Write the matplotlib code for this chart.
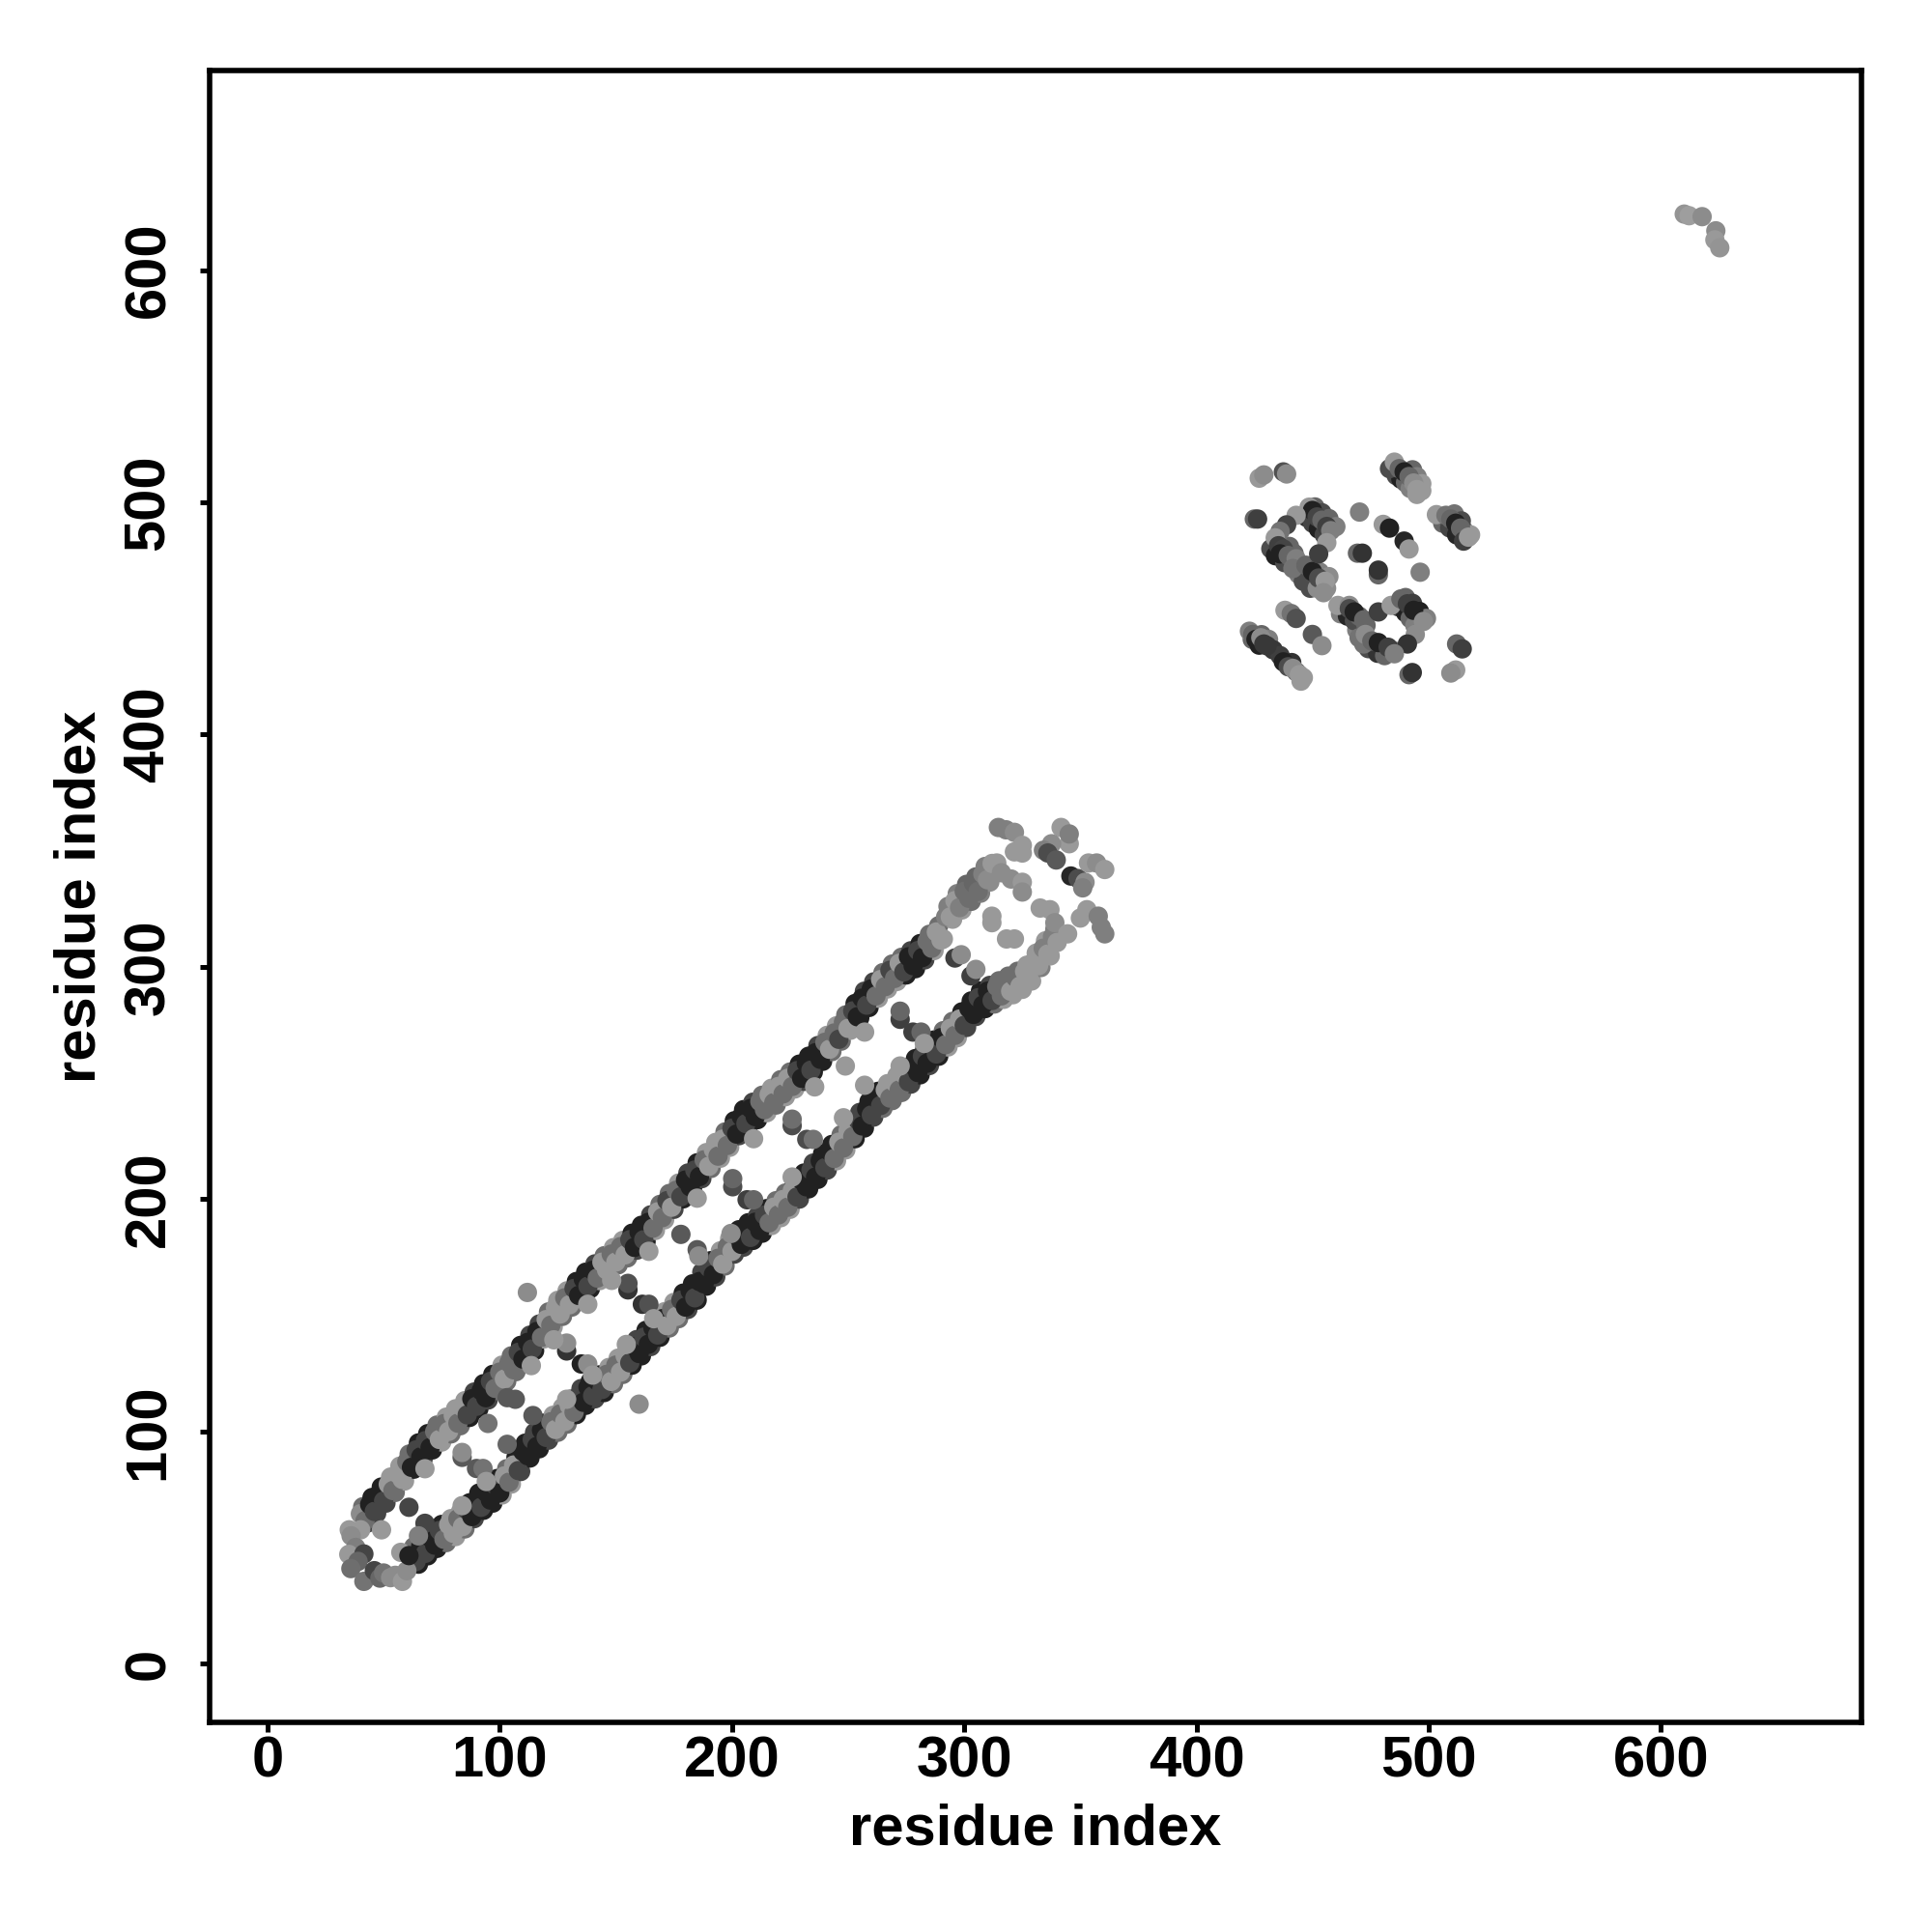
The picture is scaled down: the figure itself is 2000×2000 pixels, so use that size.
import matplotlib
matplotlib.use('Agg')
import matplotlib.pyplot as plt

# contacts along the two long strands
upper_x = [40, 42, 44, 46, 48, 50, 52, 54, 56, 58,
           60, 62, 64, 66, 68, 70, 72, 74, 76, 78,
           80, 82, 84, 86, 88, 90, 92, 94, 96, 98,
           100, 102, 104, 106, 108, 110, 112, 114, 116, 118,
           120, 122, 124, 126, 128, 130, 132, 134, 136, 138,
           140, 142, 144, 146, 148, 150, 152, 154, 156, 158,
           160, 162, 164, 166, 168, 170, 172, 174, 176, 178,
           180, 182, 184, 186, 188, 190, 192, 194, 196, 198,
           200, 202, 204, 206, 208, 210, 212, 214, 216, 218,
           220, 222, 224, 226, 228, 230, 232, 234, 236, 238,
           240, 242, 244, 246, 248, 250, 252, 254, 256, 258,
           260, 262, 264, 266, 268, 270, 272, 274, 276, 278,
           280, 282, 284, 286, 288, 290, 292, 294, 296, 298,
           300, 302, 304, 306, 308, 310, 312]
upper_y = [64.5, 61.5, 68.5, 65.5, 72.9, 70, 77.2, 74.5, 81.8, 79.3,
           86.9, 84.5, 92, 89, 96, 93, 99.9, 96.5, 103.3, 100,
           106.8, 103.5, 110.3, 107.1, 114, 110.8, 117.5, 114.5, 121.5, 118.5,
           125.5, 122.5, 129.5, 126.5, 134, 131.1, 138.3, 135.5, 143, 140.5,
           148.1, 145.7, 153.2, 150.5, 157.5, 154.5, 161.5, 158.5, 165.5, 162.5,
           169.3, 166, 172.8, 169.5, 176.3, 172.9, 179.5, 176, 182.5, 179.2,
           185.8, 182.5, 190, 187.5, 194.5, 192, 199.3, 196.5, 203.8, 201,
           208.2, 205.3, 212.5, 209.7, 216.9, 214.1, 221.3, 218.5, 225.8, 223.1,
           230.5, 228, 235.5, 232.5, 239, 235.5, 242, 238.5, 245, 241.5,
           248.5, 245.3, 252, 248.5, 255.3, 252, 258.5, 255.5, 263, 260.2,
           267.5, 264.5, 271.5, 268.8, 276.2, 273.5, 281, 278.5, 286.5, 283.5,
           290.5, 287.5, 294.5, 291.5, 298.5, 295, 301.5, 297.8, 304.3, 300.5,
           307, 304, 311, 308, 315, 311.5, 321.5, 321.5, 328.5, 325.5,
           332.5, 329.5, 336, 332.5, 340, 337.5, 344.5]
upper_score = [.45, .57, .87, .73, .87, .73, .4, .57, .4, .4,
               .57, .87, .73, .87, .73, .87, .57, .4, .57, .4,
               .4, .57, .4, .73, .87, .73, .87, .87, .73, .57,
               .57, .4, .57, .57, .73, .87, .87, .73, .87, .57,
               .4, .57, .4, .4, .57, .4, .73, .87, .87, .73,
               .87, .57, .4, .4, .57, .4, .57, .4, .73, .87,
               .87, .73, .87, .57, .4, .57, .73, .4, .57, .73,
               .87, .87, .73, .87, .57, .4, .4, .57, .4, .57,
               .73, .87, .87, .73, .87, .87, .57, .57, .4, .57,
               .4, .57, .4, .57, .73, .87, .87, .73, .87, .87,
               .57, .4, .57, .73, .57, .4, .73, .87, .87, .73,
               .87, .57, .4, .57, .73, .57, .4, .73, .87, .87,
               .73, .87, .57, .57, .4, .4, .5, .4, .4, .5,
               .57, .57, .6, .57, .5, .45, .4]

# contacts on the outer edges of the upper strand
upper_edge_x = [41, 43, 45, 47, 49, 51, 53, 55, 57, 59,
                61, 63, 65, 67, 69, 71, 73, 75, 77, 79,
                81, 83, 85, 87, 89, 91, 93, 95, 97, 99,
                101, 103, 105, 107, 109, 111, 113, 115, 117, 119,
                121, 123, 125, 127, 129, 131, 133, 135, 137, 139,
                141, 143, 145, 147, 149, 151, 153, 155, 157, 159,
                161, 163, 165, 167, 169, 171, 173, 175, 177, 179,
                181, 183, 185, 187, 189, 191, 193, 195, 197, 199,
                201, 203, 205, 207, 209, 211, 213, 215, 217, 219,
                221, 223, 225, 227, 229, 231, 233, 235, 237, 239,
                241, 243, 245, 247, 249, 251, 253, 255, 257, 259,
                261, 263, 265, 267, 269, 271, 273, 275, 277, 279,
                281, 283, 285, 287, 289, 291, 293, 295, 297, 299,
                301, 303, 305, 307, 309, 311]
upper_edge_y = [67.5, 60.5, 71.5, 64.7, 76, 69.1, 80.3, 73.7, 85, 78.6,
                90.2, 83.7, 95, 88, 99, 92, 102.7, 95.4, 106.1, 98.9,
                109.7, 102.4, 113.2, 106, 116.9, 109.7, 120.5, 113.5, 124.5, 117.5,
                128.5, 121.5, 132.5, 125.7, 137, 130.2, 141.4, 134.7, 146.2, 139.8,
                151.4, 144.9, 156.4, 149.5, 160.5, 153.5, 164.5, 157.5, 168.5, 161.4,
                172.1, 164.9, 175.6, 168.4, 179.1, 171.7, 182.2, 174.7, 185.3, 178,
                188.7, 181.7, 193.2, 186.5, 197.7, 191.1, 202.4, 195.6, 206.9, 200.1,
                211.2, 204.4, 215.6, 208.8, 220, 213.2, 224.4, 217.6, 228.9, 222.3,
                233.7, 227.3, 238.5, 231.2, 241.7, 234.2, 244.7, 237.2, 247.7, 240.5,
                251.4, 244.1, 254.7, 247.4, 258.1, 250.7, 261.5, 254.7, 266.1, 259.3,
                270.5, 263.5, 274.6, 268, 279.3, 272.7, 284.2, 278, 289.5, 282.5,
                293.5, 286.5, 297.5, 290.5, 301.2, 293.7, 304.1, 296.5, 306.9, 299.2,
                310, 303, 314, 307, 317.7, 312, 326, 320.5, 331.5, 324.5,
                335.5, 328.2, 338.7, 331.7, 343.2, 336.5]
upper_edge_score = [.57, .73, .87, .73, .87, .73, .4, .57, .4, .4,
                    .57, .87, .87, .73, .87, .87, .57, .4, .4, .57,
                    .4, .57, .4, .87, .73, .87, .87, .73, .87, .57,
                    .4, .57, .57, .57, .87, .87, .73, .87, .73, .4,
                    .57, .4, .4, .57, .4, .57, .87, .73, .87, .87,
                    .73, .4, .57, .4, .4, .57, .4, .57, .87, .73,
                    .87, .87, .73, .4, .57, .4, .57, .73, .4, .87,
                    .73, .87, .87, .73, .4, .57, .4, .4, .57, .4,
                    .87, .73, .87, .87, .73, .87, .57, .4, .4, .57,
                    .57, .4, .57, .4, .87, .73, .87, .87, .73, .87,
                    .4, .57, .4, .57, .57, .4, .87, .87, .73, .87,
                    .73, .4, .57, .4, .57, .4, .57, .87, .73, .87,
                    .87, .73, .57, .4, .57, .4, .5, .4, .5, .4,
                    .6, .57, .6, .5, .5, .45]

lower_x = [62, 64, 66, 68, 70, 72, 74, 76, 78, 80,
           82, 84, 86, 88, 90, 92, 94, 96, 98, 100,
           102, 104, 106, 108, 110, 112, 114, 116, 118, 120,
           122, 124, 126, 128, 130, 132, 134, 136, 138, 140,
           142, 144, 146, 148, 150, 152, 154, 156, 158, 160,
           162, 164, 166, 168, 170, 172, 174, 176, 178, 180,
           182, 184, 186, 188, 190, 192, 194, 196, 198, 200,
           202, 204, 206, 208, 210, 212, 214, 216, 218, 220,
           222, 224, 226, 228, 230, 232, 234, 236, 238, 240,
           242, 244, 246, 248, 250, 252, 254, 256, 258, 260,
           262, 264, 266, 268, 270, 272, 274, 276, 278, 280,
           282, 284, 286, 288, 290, 292, 294, 296, 298, 300,
           302, 304, 306, 308, 310, 312, 314, 316, 318, 320,
           322, 324, 326, 328, 330, 332, 334, 336, 338, 340]
lower_y = [47.5, 44, 50.7, 47.5, 54.3, 51, 57.3, 53.5, 59.8, 56.1,
           62.4, 59, 66.1, 63.3, 70.5, 67.3, 73.8, 70.4, 76.9, 73.5,
           80.8, 78.1, 85.5, 83.1, 91.3, 89.5, 96.5, 93.5, 100.5, 97.4,
           104.1, 100.8, 107.5, 104.2, 111, 108.2, 115.3, 112.5, 119, 115.3,
           121.7, 118, 124.5, 121.5, 128.5, 125.5, 132.5, 129.5, 136.5, 133.5,
           140.5, 137.5, 144.5, 141.5, 148.5, 145.5, 152.5, 149.5, 156.5, 153.5,
           160.5, 157.5, 164.5, 163.5, 170.5, 167.5, 174.5, 172, 179.5, 177.5,
           184.2, 180.5, 187.2, 183.5, 190, 186.5, 193.1, 189.8, 196.5, 193.2,
           199.8, 196.5, 203.7, 200.9, 208.1, 205.3, 212.5, 209.5, 216.5, 213.5,
           220.5, 217.5, 224.5, 222, 229.5, 226.9, 234.2, 231.5, 238.8, 236.2,
           243.5, 240.3, 247, 243.5, 250.3, 247, 253.8, 250.5, 257.5, 254.5,
           261.5, 258.5, 265.5, 262.5, 269.5, 266.5, 273.5, 270.5, 277.5, 274.8,
           282.1, 279.5, 286.7, 283.5, 289.5, 285.5, 291.5, 287.5, 293.5, 289.5,
           295.5, 291.7, 298, 294.5, 302.3, 300.5, 308, 305.5, 313, 310.5]
lower_score = [.57, .73, .87, .73, .87, .87, .73, .57, .4, .4,
               .57, .4, .73, .87, .87, .73, .87, .87, .73, .87,
               .4, .57, .4, .73, .87, .87, .73, .87, .87, .73,
               .57, .4, .57, .4, .4, .57, .73, .87, .87, .73,
               .87, .73, .57, .4, .57, .4, .4, .73, .87, .87,
               .73, .87, .87, .73, .87, .4, .57, .4, .73, .87,
               .87, .73, .87, .87, .73, .87, .57, .4, .57, .4,
               .73, .87, .87, .73, .87, .87, .73, .57, .4, .57,
               .4, .57, .4, .73, .87, .87, .73, .87, .87, .73,
               .87, .57, .4, .57, .4, .57, .73, .87, .87, .73,
               .87, .73, .4, .57, .4, .57, .4, .73, .87, .87,
               .73, .87, .87, .73, .87, .57, .4, .57, .4, .73,
               .87, .87, .73, .87, .87, .73, .57, .57, .57, .4,
               .57, .4, .4, .4, .4, .4, .5, .4, .5, .4]

# contacts on the outer edges of the lower strand
lower_edge_x = [63, 65, 67, 69, 71, 73, 75, 77, 79, 81,
                83, 85, 87, 89, 91, 93, 95, 97, 99, 101,
                103, 105, 107, 109, 111, 113, 115, 117, 119, 121,
                123, 125, 127, 129, 131, 133, 135, 137, 139, 141,
                143, 145, 147, 149, 151, 153, 155, 157, 159, 161,
                163, 165, 167, 169, 171, 173, 175, 177, 179, 181,
                183, 185, 187, 189, 191, 193, 195, 197, 199, 201,
                203, 205, 207, 209, 211, 213, 215, 217, 219, 221,
                223, 225, 227, 229, 231, 233, 235, 237, 239, 241,
                243, 245, 247, 249, 251, 253, 255, 257, 259, 261,
                263, 265, 267, 269, 271, 273, 275, 277, 279, 281,
                283, 285, 287, 289, 291, 293, 295, 297, 299, 301,
                303, 305, 307, 309, 311, 313, 315, 317, 319, 321,
                323, 325, 327, 329, 331, 333, 335, 337, 339]
lower_edge_y = [50.3, 42.8, 53.6, 46.4, 57.1, 49.6, 59.9, 52.1, 62.4, 54.7,
                65.2, 58, 69.2, 62.4, 73.4, 66, 76.6, 69.1, 79.7, 72.6,
                83.9, 77.3, 88.8, 82.7, 94.9, 88.5, 99.5, 92.5, 103.5, 96.2,
                106.9, 99.6, 110.3, 103.1, 114.1, 107.2, 118.4, 111.2, 121.6, 114,
                124.3, 116.7, 127.5, 120.5, 131.5, 124.5, 135.5, 128.5, 139.5, 132.5,
                143.5, 136.5, 147.5, 140.5, 151.5, 144.5, 155.5, 148.5, 159.5, 152.5,
                163.5, 156.5, 168.5, 162.5, 173.5, 166.5, 177.7, 171.2, 183, 176.3,
                186.8, 179.3, 189.8, 182.2, 192.7, 185.3, 195.9, 188.6, 199.3, 192,
                202.6, 195.6, 206.8, 200, 211.2, 204.4, 215.5, 208.5, 219.5, 212.5,
                223.5, 216.5, 227.7, 221.2, 232.7, 226, 237.3, 230.6, 242, 235.3,
                246.4, 239.1, 249.7, 242.4, 253.1, 245.9, 256.6, 249.5, 260.5, 253.5,
                264.5, 257.5, 268.5, 261.5, 272.5, 265.5, 276.5, 269.5, 280.6, 273.9,
                285.3, 278.6, 289.6, 282, 292, 284, 294, 286, 296, 288,
                298.1, 290.3, 300.7, 293.9, 305.9, 299.7, 311.2, 304.7, 316.2]
lower_edge_score = [.57, .87, .73, .87, .73, .87, .87, .57, .4, .4,
                    .4, .57, .87, .73, .87, .87, .73, .87, .87, .4,
                    .57, .4, .87, .73, .87, .87, .73, .87, .87, .73,
                    .4, .57, .4, .57, .4, .87, .73, .87, .87, .73,
                    .87, .87, .4, .57, .4, .57, .4, .87, .73, .87,
                    .87, .73, .87, .87, .4, .57, .4, .57, .87, .73,
                    .87, .87, .73, .87, .87, .73, .4, .57, .4, .73,
                    .87, .73, .87, .87, .73, .87, .87, .4, .57, .4,
                    .57, .4, .87, .73, .87, .87, .73, .87, .87, .73,
                    .87, .4, .57, .4, .57, .87, .73, .87, .87, .73,
                    .87, .57, .4, .57, .4, .57, .87, .73, .87, .87,
                    .87, .73, .87, .87, .57, .4, .57, .4, .87, .73,
                    .87, .73, .87, .87, .73, .57, .57, .4, .57, .4,
                    .57, .4, .4, .4, .4, .5, .4, .4, .5]

# end cap, rungs between the strands and the far end of the band
band_x = [35.2, 40.1, 36, 38, 35, 41.5, 39, 35.9, 41.5, 46, 48.4, 50, 53, 55, 58.1, 60, 57.4, 60.9, 49.1, 60.9,
          67.8, 65, 67.8, 83.8, 83.8, 90, 92.8, 94.2, 83.8, 94.9, 103.2, 106.7, 103.2, 114.3, 128.8, 128.8,
          135.1, 137.9, 140, 128.8, 113.6, 123.3, 155.2, 155.2, 161.4, 164.2, 166.3, 154.5, 137.9, 178, 185,
          185.7, 164.2, 148.2, 200.3, 200.3, 206.5, 209.3, 185, 199.6, 225.9, 225.9, 232.2, 235, 225.9, 209.3,
          248.8, 257.1, 235.6, 248, 272.4, 272.4, 277.9, 281.4, 282.8, 272.4, 257.1, 296, 298.7, 302.9, 305,
          311.9, 311.9, 318.2, 321.6, 111.9, 160,
          314.7, 318, 321.6, 325, 321.6, 325, 314, 316, 320.2, 325, 325,
          341.7, 345.2, 345.2, 337.6, 334.1, 336, 339.6, 345.9, 349, 352, 351, 353.5, 357, 360.5,
          332.7, 336.9, 339, 344.5, 350, 352.8, 357.7, 359, 360.5]
band_y = [57.6, 57.6, 55, 50, 47, 47.2, 44, 40.9, 35.4, 40, 36.8, 39, 37, 38, 35.4, 40, 47.9, 46.5, 57.6, 67.3,
          60.4, 55, 83.9, 88.8, 90.9, 84, 84, 78.4, 68, 103.4, 114.5, 113.8, 94.4, 106.8, 134.6, 138,
          129, 129, 124.2, 113.8, 128.3, 139.4, 160.9, 163.7, 154.7, 154.7, 148.5, 137.4, 154.7, 184.8, 178.2,
          175.5, 177.5, 165, 205.3, 208.8, 199.7, 199.7, 200.4, 185.2, 231.6, 234.4, 225.7, 225.7, 209.5, 226,
          257.3, 249, 248.3, 235, 277.4, 280.9, 271.9, 271.9, 267, 257.3, 271.9, 303.8, 305.2, 296.1, 298.9,
          319, 321.8, 312, 312, 159.8, 111.7,
          360, 359, 357.9, 352.3, 349.5, 349, 344.7, 340.5, 337.8, 336.4, 332.2,
          360, 353, 357.2, 353, 350.2, 349, 346, 339.1, 338, 336.4, 334, 344.7, 344.7, 341.9,
          325.3, 324.6, 319, 314.2, 321, 324.6, 321.8, 317, 314.2]
band_score = [.4, .4, .45, .5, .4, .73, .6, .57, .55, .73, .6, .55, .45, .45, .4, .45, .4, .87, .4, .73,
              .73, .5, .4, .65, .45, .65, .55, .4, .4, .55, .65, .65, .6, .65, .8, .45,
              .87, .45, .4, .4, .4, .4, .8, .68, .8, .68, .4, .4, .4, .65, .65,
              .45, .4, .4, .7, .6, .75, .6, .4, .45, .7, .57, .7, .55, .4, .4,
              .4, .4, .4, .4, .75, .6, .75, .6, .4, .4, .4, .75, .45, .75, .45,
              .4, .4, .4, .4, .45, .45,
              .5, .5, .45, .4, .4, .4, .4, .45, .45, .4, .45,
              .4, .4, .5, .45, .5, .7, .65, .85, .7, .45, .5, .4, .45, .4,
              .4, .4, .45, .4, .4, .4, .5, .5, .5]

# domain around residue 470, thick arms first
arm_x = [451, 454, 457, 460, 447.5, 450, 452.5, 455,
         490, 493, 496, 499, 487, 490, 492, 494,
         424, 427, 428, 431, 433, 436, 441, 443, 446,
         486, 488, 490, 492, 497, 493, 495, 497,
         506, 509, 512, 515, 518, 511, 514,
         432, 434, 438, 440, 442, 444, 446, 449, 452, 456, 453, 457,
         474, 478, 481, 485, 469, 472,
         462, 465, 468, 470, 473]
arm_y = [498, 495.5, 493, 489.5, 493.5, 491, 488.5, 486,
         459, 456.5, 453, 450, 455, 452.5, 450, 447,
         441, 438.5, 443, 441, 436.5, 434, 431, 427, 424.5,
         511.5, 510, 508.5, 506, 505, 514, 511, 508,
         491, 489, 486, 488, 486, 495, 492,
         480, 477, 474, 481, 478, 469, 466, 463, 463, 463, 470, 468,
         437, 435, 434, 436, 445, 439,
         452, 451, 449, 451, 447]
arm_score = [.6, .7, .6, .5, .8, .73, .87, .73,
             .6, .75, .87, .5, .75, .87, .6, .5,
             .6, .87, .6, .5, .78, .75, .8, .6, .4,
             .7, .87, .6, .5, .4, .6, .5, .4,
             .6, .73, .85, .6, .4, .55, .7,
             .7, .87, .7, .6, .6, .5, .7, .7, .45, .45, .5, .45,
             .7, .8, .6, .6, .5, .55,
             .5, .85, .7, .6, .6]

domain_x = [427, 429, 437.4, 438.8, 424.9, 426.3,
            448.5, 449.9, 451.9, 454, 456.1, 457.8, 442.9, 438.8, 436, 433.9,
            435.3, 437.4, 436, 439.5, 442.9, 441.5, 447.1, 449.9, 452.6, 455.4, 454.7, 456.1, 452.6,
            470.2, 480.4, 483.1, 489.4, 491.5, 469.3, 471.4, 478.3, 478.3, 496.3,
            483.1, 485.2, 487.3, 489.4, 491.5, 493.5, 494.9, 494.9,
            503.3, 507.4, 509.5, 511.6, 513.7, 515, 517.1,
            422.8, 424.2, 425.6, 427.7, 429, 430.4, 437.4, 439.5, 441.5, 444.3, 445,
            438.1, 440.8, 442.9, 449.9, 454,
            460.9, 465.8, 465.8, 467.9, 472, 478.3, 483.8, 488, 490.8, 493.5, 497.7, 494.2, 490.8,
            470, 472.7, 475.5, 478.3, 482.5, 485.2,
            512, 514.4, 511.6, 509.5, 491.5, 492.9]
domain_y = [510.4, 511.8, 513.1, 512.2, 492.8, 492.8,
            497.9, 496.5, 493.7, 492.3, 489.6, 487.8, 494.4, 490.3, 487.5, 484.7,
            481.3, 479.9, 477.8, 477.1, 475.7, 471.5, 472.9, 470.2, 467.4, 466, 461.1, 482.6, 477.8,
            495.8, 490.5, 488.9, 483.3, 479.9, 478.1, 478.1, 468.8, 470.8, 469.9,
            514.5, 517.3, 514.5, 513.1, 511.1, 508.3, 505.5, 503.4,
            494.7, 494.4, 492.8, 491, 488.9, 483.3, 485,
            444.5, 443.1, 441, 441.7, 439, 438.2, 431.3, 429.2, 428.5, 425.8, 423,
            453.5, 452.1, 450, 443.1, 438.3,
            455.6, 455.6, 454.2, 452.8, 449.4, 452.8, 455.6, 458.4, 456.3, 453.5, 448.7, 443.1, 439,
            441.7, 443.1, 440.3, 439.6, 437.6, 434.8,
            439, 436.9, 427.8, 426.5, 425.8, 426.7]
domain_score = [.4, .45, .68, .45, .6, .75,
                .4, .87, .73, .6, .75, .5, .4, .73, .55, .4,
                .75, .73, .87, .6, .5, .55, .6, .87, .7, .4, .45, .4, .75,
                .5, .4, .87, .85, .4, .6, .8, .6, .8, .5,
                .7, .4, .6, .87, .6, .45, .4, .4,
                .4, .55, .6, .87, .6, .75, .4,
                .5, .6, .87, .45, .78, .78, .87, .7, .45, .4, .4,
                .4, .55, .68, .65, .45,
                .4, .45, .7, .87, .6, .75, .4, .6, .75, .87, .45, .45, .8,
                .55, .45, .6, .87, .75, .5,
                .6, .75, .4, .45, .6, .8]

# small group at the top right
tail_x = [610, 612.1, 617.7, 623.6, 623.2, 625.3]
tail_y = [624.1, 623.4, 623, 616.9, 613, 609.6]
tail_score = [.42, .38, .45, .45, .4, .42]

ticks = [0, 100, 200, 300, 400, 500, 600]

plt.rcParams['font.family'] = ['Liberation Sans', 'DejaVu Sans']
plt.rcParams['font.weight'] = 'bold'

fig = plt.figure(figsize=(10, 10), dpi=200)
ax = fig.add_axes([0.1084, 0.1084, 0.8552, 0.8552])

for xs, ys, score in [(upper_edge_x, upper_edge_y, upper_edge_score),
                      (lower_edge_x, lower_edge_y, lower_edge_score),
                      (upper_x, upper_y, upper_score),
                      (lower_x, lower_y, lower_score),
                      (band_x, band_y, band_score),
                      (arm_x, arm_y, arm_score),
                      (domain_x, domain_y, domain_score),
                      (tail_x, tail_y, tail_score)]:
    ax.scatter(xs, ys, c=score, cmap='gray_r', vmin=0, vmax=1, s=52, linewidths=0)

ax.set_xlim(-25, 686.4)
ax.set_ylim(-25.4, 686)
ax.set_xticks(ticks)
ax.set_yticks(ticks)
ax.tick_params(axis='x', length=3.5, width=1.8, labelsize=21.5, pad=1.4)
ax.tick_params(axis='y', length=3.5, width=1.8, labelsize=21.5, pad=9)
for lab in ax.get_yticklabels():
    lab.set_rotation(90)
    lab.set_va('center')
for spine in ax.spines.values():
    spine.set_linewidth(2.0)

ax.set_xlabel('residue index', fontsize=21.5, fontweight='bold', labelpad=5.4)
ax.set_ylabel('residue index', fontsize=21.5, fontweight='bold', labelpad=6)

plt.savefig('out.png')
